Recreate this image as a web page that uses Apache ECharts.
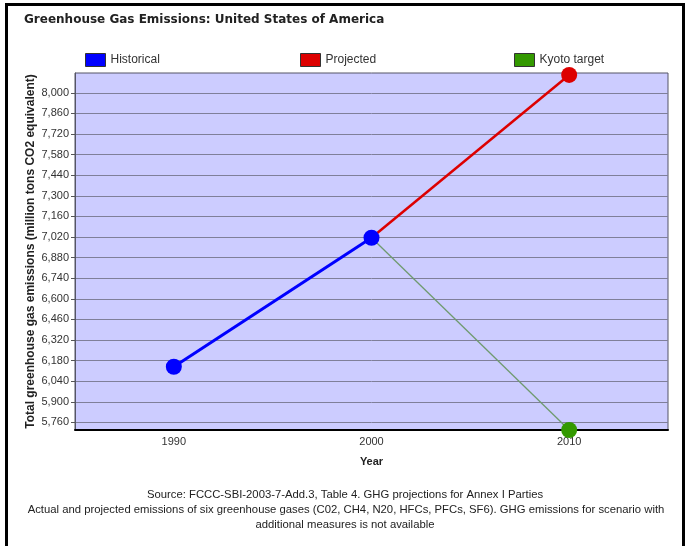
<!DOCTYPE html>
<html>
<head>
<meta charset="utf-8">
<script src="https://cdn.jsdelivr.net/npm/echarts@6/dist/echarts.min.js"></script>
<style>html,body{margin:0;padding:0;background:#fff;}#chart{width:690px;height:546px;}</style>
</head>
<body>
<div id="chart"></div>
<script>
var years = ['1990', '2000', '2010'];
var historical = [6138, 7015, null];
var projected = [null, 7015, 8122];
var kyoto = [null, 7015, 5708];
var yTicks = [5760, 5900, 6040, 6180, 6320, 6460, 6600, 6740, 6880, 7020, 7160, 7300, 7440, 7580, 7720, 7860, 8000];
var yMin = 5708, yMax = 8135;

var chart = echarts.init(document.getElementById('chart'));
function withHiddenStart(arr) {
  return arr.map(function (v, i) {
    if (v === null) return null;
    if (i === 1) return { value: v, symbol: 'none' };
    return v;
  });
}
var legendBase = {
  orient: 'horizontal', top: 53, padding: 0, itemWidth: 20, itemHeight: 13, itemGap: 5, icon: 'rect',
  itemStyle: { borderColor: '#333', borderWidth: 1 },
  textStyle: { fontFamily: 'Liberation Sans, Arial', fontSize: 12, color: '#333', padding: [0, 0, 0, 0] }
};
chart.setOption({
  backgroundColor: '#fff',
  animation: false,
  title: {
    text: 'Greenhouse Gas Emissions: United States of America',
    left: 19, top: 9,
    textStyle: { fontFamily: 'DejaVu Sans', fontWeight: 'bold', fontSize: 12, color: '#222' }
  },
  legend: [
    Object.assign({}, legendBase, { left: 85, data: ['Historical'] }),
    Object.assign({}, legendBase, { left: 300, data: ['Projected'] }),
    Object.assign({}, legendBase, { left: 514, data: ['Kyoto target'] })
  ],
  grid: {
    left: 75, top: 73, right: 22, bottom: 116, show: true,
    backgroundColor: '#ccccff', borderColor: '#555566', borderWidth: 1
  },
  xAxis: {
    type: 'category', data: years, boundaryGap: true,
    name: 'Year', nameLocation: 'middle', nameGap: 26,
    nameTextStyle: { fontFamily: 'Liberation Sans, Arial', fontWeight: 'bold', fontSize: 11, color: '#222' },
    axisLine: { lineStyle: { color: '#000', width: 2 } },
    axisTick: { alignWithLabel: true, length: 4, lineStyle: { color: '#555' } },
    axisLabel: { fontFamily: 'Liberation Sans, Arial', fontSize: 11, color: '#333', margin: 6 },
    splitLine: { show: false }
  },
  yAxis: {
    type: 'value', min: yMin, max: yMax,
    name: 'Total greenhouse gas emissions (million tons CO2 equivalent)',
    nameLocation: 'middle', nameGap: 38, nameRotate: 90, nameMoveOverlap: false,
    nameTextStyle: { fontFamily: 'Liberation Sans, Arial', fontWeight: 'bold', fontSize: 12, color: '#222' },
    axisLine: { show: true, lineStyle: { color: '#555566', width: 1 } },
    axisTick: { show: true, length: 4, customValues: yTicks, lineStyle: { color: '#555' } },
    axisLabel: {
      fontFamily: 'Liberation Sans, Arial', fontSize: 11, color: '#333', margin: 6,
      customValues: yTicks,
      formatter: function (v) { return Number(v).toLocaleString('en-US'); }
    },
    splitLine: { show: true, lineStyle: { color: '#7f7f99', width: 1 } }
  },
  series: [
    {
      name: 'Kyoto target', type: 'line', data: withHiddenStart(kyoto),
      color: '#339900', symbol: 'circle', symbolSize: 16,
      lineStyle: { color: '#6f9a6f', width: 1.3 }, itemStyle: { color: '#339900' }, z: 2
    },
    {
      name: 'Projected', type: 'line', data: withHiddenStart(projected),
      color: '#dd0000', symbol: 'circle', symbolSize: 16,
      lineStyle: { color: '#dd0000', width: 2.5 }, itemStyle: { color: '#dd0000' }, z: 3
    },
    {
      name: 'Historical', type: 'line', data: historical,
      color: '#0000ff', symbol: 'circle', symbolSize: 16,
      lineStyle: { color: '#0000ff', width: 3 }, itemStyle: { color: '#0000ff' }, z: 4
    }
  ],
  graphic: [
    { type: 'rect', shape: { x: 6.5, y: 4.5, width: 677, height: 560 }, style: { fill: 'none', stroke: '#000', lineWidth: 3 }, silent: true },
    { type: 'text', x: 345, y: 495, style: { text: 'Source: FCCC-SBI-2003-7-Add.3, Table 4. GHG projections for Annex I Parties', align: 'center', verticalAlign: 'middle', fontFamily: 'Liberation Sans, Arial', fontSize: 11.3, fill: '#222' } },
    { type: 'text', x: 346, y: 510, style: { text: 'Actual and projected emissions of six greenhouse gases (C02, CH4, N20, HFCs, PFCs, SF6). GHG emissions for scenario with', align: 'center', verticalAlign: 'middle', fontFamily: 'Liberation Sans, Arial', fontSize: 11.3, fill: '#222' } },
    { type: 'text', x: 345, y: 525, style: { text: 'additional measures is not available', align: 'center', verticalAlign: 'middle', fontFamily: 'Liberation Sans, Arial', fontSize: 11.3, fill: '#222' } }
  ]
});
</script>
</body>
</html>
